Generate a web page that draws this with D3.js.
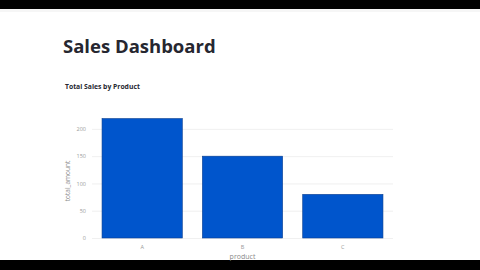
<!DOCTYPE html>
<html>
<head>
<meta charset="utf-8">
<script src="https://cdn.jsdelivr.net/npm/d3@7"></script>
<style>
  body { margin: 0; background: #fff; }
  svg { display: block; }
</style>
</head>
<body>
<div id="chart"></div>
<script>
var products = ['A', 'B', 'C'];
var totals = [219, 150, 80];
var yTicks = [0, 50, 100, 150, 200];

var width = 480;
var height = 270;
var margin = {
  top: 118,
  right: 87,
  bottom: 32,
  left: 92
};
var w = width - margin.left - margin.right;
var h = height - margin.top - margin.bottom;

var svg = d3.select("#chart")
  .append("svg")
  .attr("width", width)
  .attr("height", height);

// letterbox bands of the video frame
svg.append("rect").attr("x", 0).attr("y", 0).attr("width", width).attr("height", 9).attr("fill", "#000");
svg.append("rect").attr("x", 0).attr("y", 9).attr("width", width).attr("height", 3).attr("fill", "#f6f6f6");
svg.append("rect").attr("x", 0).attr("y", 260).attr("width", width).attr("height", 10).attr("fill", "#000");

svg.append("text")
  .attr("x", 63)
  .attr("y", 52.5)
  .attr("font-family", "'Open Sans', sans-serif")
  .attr("font-weight", 700)
  .attr("font-size", 18.5)
  .attr("fill", "#262730")
  .text("Sales Dashboard");

svg.append("text")
  .attr("x", 65)
  .attr("y", 89)
  .attr("font-family", "'Open Sans', sans-serif")
  .attr("font-weight", 700)
  .attr("font-size", 6.8)
  .attr("fill", "#262730")
  .text("Total Sales by Product");

var g = svg.append("g")
  .attr("transform", "translate(" + margin.left + "," + margin.top + ")");

var xScale = d3.scaleBand()
  .domain(products)
  .range([0, w])
  .paddingInner(0.2)
  .paddingOuter(0.1);

var yScale = d3.scaleLinear()
  .domain([0, 220])
  .range([h, 0]);

// horizontal grid
var yGrid = d3.axisLeft(yScale)
  .tickValues(yTicks)
  .tickFormat("")
  .tickSize(-w);
g.append("g")
  .attr("class", "grid")
  .call(yGrid)
  .call(function(s) {
    s.select(".domain").remove();
    s.selectAll("line").attr("stroke", "#ececec").attr("stroke-width", 0.8);
  });

g.selectAll(".bar")
  .data(totals)
  .enter()
  .append("rect")
  .attr("class", "bar")
  .attr("x", function(d, i) { return xScale(products[i]); })
  .attr("y", function(d) { return yScale(d); })
  .attr("width", xScale.bandwidth())
  .attr("height", function(d) { return h - yScale(d); })
  .attr("fill", "#0055cc")
  .attr("stroke", "#0a3f8f")
  .attr("stroke-width", 0.6);

var yAxis = d3.axisLeft(yScale)
  .tickValues(yTicks)
  .tickSizeInner(0)
  .tickSizeOuter(0)
  .tickPadding(6);
g.append("g")
  .attr("class", "y axis")
  .call(yAxis)
  .call(function(s) {
    s.select(".domain").remove();
    s.selectAll("text")
      .attr("font-family", "'Open Sans', sans-serif")
      .attr("font-size", 5.5)
      .attr("fill", "#9a9a9a");
  });

var xAxis = d3.axisBottom(xScale)
  .tickSizeInner(0)
  .tickSizeOuter(0)
  .tickPadding(7);
g.append("g")
  .attr("class", "x axis")
  .attr("transform", "translate(0," + h + ")")
  .call(xAxis)
  .call(function(s) {
    s.select(".domain").remove();
    s.selectAll("text")
      .attr("font-family", "'Open Sans', sans-serif")
      .attr("font-size", 5.5)
      .attr("fill", "#9a9a9a");
  });

svg.append("text")
  .attr("x", margin.left + w / 2)
  .attr("y", 259)
  .attr("text-anchor", "middle")
  .attr("font-family", "'Open Sans', sans-serif")
  .attr("font-size", 7)
  .attr("fill", "#8a8a8a")
  .text("product");

svg.append("text")
  .attr("transform", "translate(70," + (margin.top + h / 2 + 3) + ") rotate(-90)")
  .attr("text-anchor", "middle")
  .attr("font-family", "'Open Sans', sans-serif")
  .attr("font-size", 6.5)
  .attr("fill", "#8a8a8a")
  .text("total_amount");
</script>
</body>
</html>
